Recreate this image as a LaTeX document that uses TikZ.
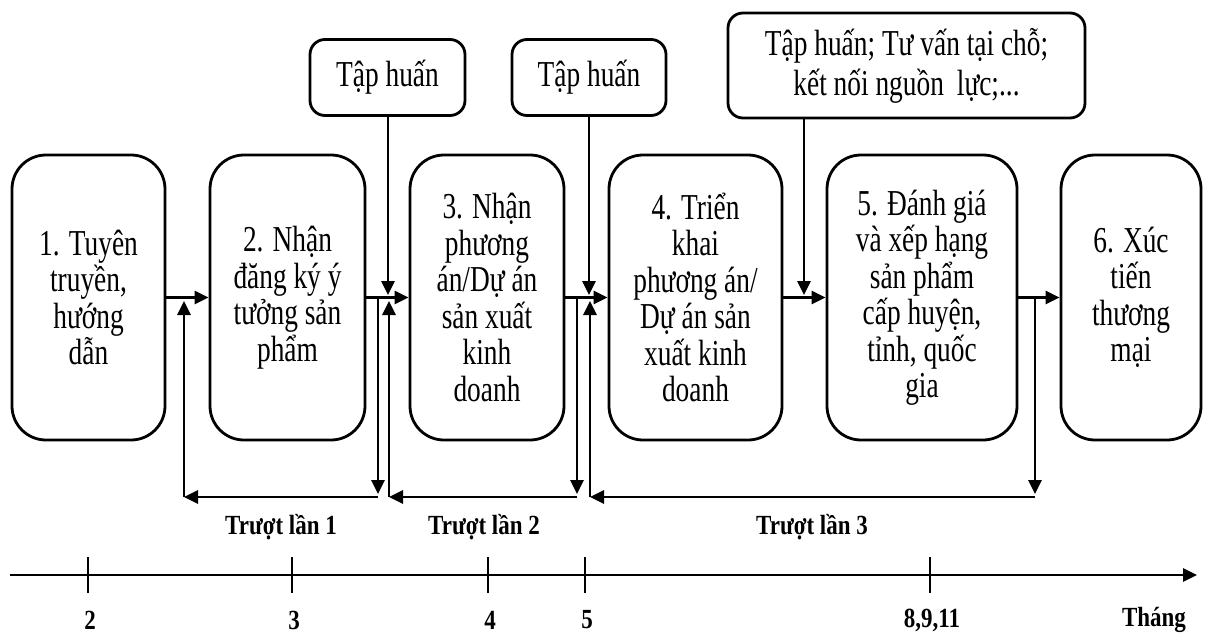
\documentclass[tikz,border=0pt]{standalone}
\usepackage{fontspec}
\setmainfont{Liberation Serif}[FakeStretch=0.75]
\newfontfamily\lbfam{Liberation Serif}[FakeStretch=0.83]
\usetikzlibrary{arrows.meta}
\newcommand\bxfont{\fontsize{36.5}{36.5}\selectfont}
\newcommand\tpfont{\fontsize{36.5}{40}\selectfont}
\newcommand\lbfont{\lbfam\fontsize{27.7}{30}\selectfont\bfseries}
\tikzset{
  stagebox/.style={draw, line width=2.8pt, rounded corners=34pt, minimum height=285pt, inner sep=0pt, align=center, font=\bxfont},
  topbox/.style={draw, line width=2.8pt, rounded corners=15pt, inner sep=0pt, align=center, font=\tpfont},
  arr/.style={line width=2.8pt, -{Triangle[length=14pt,width=13pt]}},
  ln/.style={line width=2.8pt},
  lbl/.style={font=\lbfont, inner sep=0pt},
}
\begin{document}
\begin{tikzpicture}[x=1pt,y=-1pt]
\useasboundingbox (0,0) rectangle (1209,634);
% stage boxes
\node[stagebox, minimum width=153pt] (b1) at (88.5,297.5) {1. Tuyên\\truyền,\\hướng\\dẫn};
\node[stagebox, minimum width=155pt] (b2) at (287.5,297.5) {2. Nhận\\đăng ký ý\\tưởng sản\\phẩm};
\node[stagebox, minimum width=154pt] (b3) at (487,297.5) {3. Nhận\\phương\\án/Dự án\\sản xuất\\kinh\\doanh};
\node[stagebox, minimum width=173pt] (b4) at (695.5,297.5) {4. Triển\\khai\\phương án/\\Dự án sản\\xuất kinh\\doanh};
\node[stagebox, minimum width=190pt] (b5) at (922,297.5) {5. Đánh giá\\và xếp hạng\\sản phẩm\\cấp huyện,\\tỉnh, quốc\\gia};
\node[stagebox, minimum width=140pt] (b6) at (1131,297.5) {6. Xúc\\tiến\\thương\\mại};
% top boxes
\node[topbox, minimum width=155pt, minimum height=76pt] (t1) at (387.5,77.5) {Tập huấn};
\node[topbox, minimum width=154pt, minimum height=76pt] (t2) at (589,77.5) {Tập huấn};
\node[topbox, minimum width=357pt, minimum height=105pt] (t3) at (906.5,65.5) {Tập huấn; Tư vấn tại chỗ;\\kết nối nguồn\, lực;...};
% main flow arrows
\draw[arr] (b1.east) -- (b2.west);
\draw[arr] (b2.east) -- (b3.west);
\draw[arr] (b3.east) -- (b4.west);
\draw[arr] (b4.east) -- (b5.west);
\draw[arr] (b5.east) -- (b6.west);
% support arrows
\coordinate (s1) at (388,298);
\coordinate (s2) at (589,298);
\coordinate (s3) at (804,298);
\draw[arr, shorten >=3pt] (t1.south -| s1) -- (s1);
\draw[arr, shorten >=3pt] (t2.south -| s2) -- (s2);
\draw[arr, shorten >=3pt] (t3.south -| s3) -- (s3);
% loop 1
\coordinate (a1) at (378,298);
\coordinate (a2) at (378,497);
\coordinate (a3) at (184,497);
\coordinate (a4) at (184,298);
\draw[arr, shorten >=3pt] (a1) -- (a2);
\draw[arr] (a2) -- (a3);
\draw[arr, shorten >=3pt] (a3) -- (a4);
% loop 2
\coordinate (c1) at (577,298);
\coordinate (c2) at (577,497);
\coordinate (c3) at (389,497);
\coordinate (c4) at (389,298);
\draw[arr, shorten >=3pt] (c1) -- (c2);
\draw[arr] (c2) -- (c3);
\draw[arr, shorten >=3pt] (c3) -- (c4);
% loop 3
\coordinate (e1) at (1035,298);
\coordinate (e2) at (1035,497);
\coordinate (e3) at (590,497);
\coordinate (e4) at (590,298);
\draw[arr, shorten >=3pt] (e1) -- (e2);
\draw[arr] (e2) -- (e3);
\draw[arr, shorten >=3pt] (e3) -- (e4);
% loop labels
\node[lbl] (l1) at (281,527) {Trượt lần 1};
\node[lbl] (l2) at (484,527) {Trượt lần 2};
\node[lbl] (l3) at (812,527) {Trượt lần 3};
% time axis
\coordinate (ax0) at (10,575);
\coordinate (ax1) at (1197,575);
\draw[arr] (ax0) -- (ax1);
\foreach \x/\t/\n in {88/2/k1,292/3/k2,488/4/k3,585/5/k4,930/{8,9,11}/k5}{
  \draw[ln] (\x,557) -- (\x,593);
  \node[lbl] (\n) at (\x+2,620) {\t};
}
\node[lbl] (kth) at (1154,620) {Tháng};
\end{tikzpicture}
\end{document}
